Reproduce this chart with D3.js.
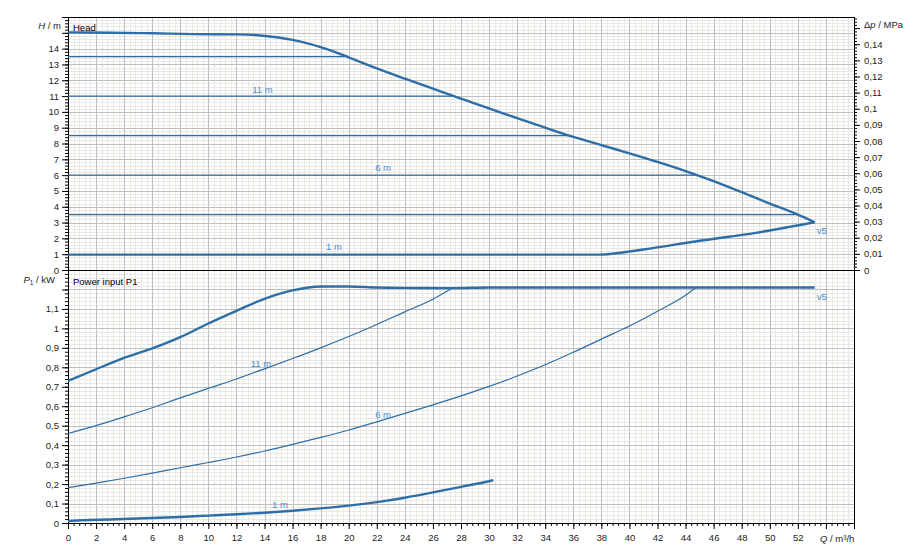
<!DOCTYPE html>
<html lang="en">
<head>
    <meta charset="utf-8">
    <title>Pump curves</title>
    <script src="https://d3js.org/d3.v7.min.js"></script>
    <style>
        body { margin: 0; background: #fff; }
        svg { font-family: "Liberation Sans", Arial, sans-serif; }
    </style>
</head>
<body>
    <div id="chart"></div>
    <script>
        // Data: [Q m³/h, value]
        const headMax = [[0, 15.03], [3, 15.0], [6, 14.97], [9, 14.92], [12, 14.9], [13.5, 14.85], [15, 14.7], [16, 14.55],
            [17, 14.35], [18, 14.1], [19, 13.8], [20, 13.45], [22, 12.75], [24, 12.1], [26, 11.47], [28, 10.84],
            [30, 10.22], [32, 9.6], [34, 9.0], [36, 8.42], [38, 7.9], [40, 7.38], [42, 6.84], [44, 6.26],
            [46, 5.62], [48, 4.92], [50, 4.2], [52, 3.5], [53.2, 3.02]];
        const headMin = [[0, 0.97], [37.8, 0.97], [41, 1.3], [45, 1.85], [49, 2.35], [53.2, 3.02]];
        const headLevels = [13.5, 11, 8.5, 6, 3.5];

        const powerMax = [[0, 0.73], [2, 0.79], [4, 0.848], [6, 0.897], [8, 0.955], [10, 1.025], [12, 1.09], [14, 1.152],
            [16, 1.195], [18, 1.215], [20, 1.215], [22, 1.21], [24, 1.208], [27.4, 1.207], [30, 1.21], [53.2, 1.21]];
        const power11 = [[0, 0.46], [2, 0.5], [4, 0.545], [6, 0.592], [8, 0.643], [10, 0.692], [12, 0.74], [14, 0.792],
            [16, 0.845], [18, 0.9], [20, 0.958], [22, 1.02], [24, 1.085], [26, 1.15], [27.4, 1.207]];
        const power6 = [[0, 0.182], [2, 0.205], [4, 0.23], [6, 0.256], [8, 0.284], [10, 0.311], [12, 0.339], [14, 0.37],
            [16, 0.404], [18, 0.44], [20, 0.478], [22, 0.52], [24, 0.563], [26, 0.607], [28, 0.653], [30, 0.702],
            [32, 0.755], [34, 0.813], [36, 0.877], [38, 0.945], [40, 1.012], [42, 1.088], [44, 1.17], [44.7, 1.207]];
        const power1 = [[0, 0.01], [1, 0.014], [3, 0.018], [5, 0.023], [8, 0.031], [10, 0.038], [12, 0.045],
            [14, 0.053], [16, 0.063], [18, 0.075], [20, 0.089], [22, 0.107], [24, 0.13], [26, 0.157], [28, 0.186],
            [29.5, 0.207], [30.3, 0.22]];

        // Tick labels
        const qLabels = d3.range(0, 53, 2);
        const headLabels = d3.range(0, 15, 1);
        const powerLabels = d3.range(0, 12, 1).map(i => i / 10);
        const dpLabels = d3.range(0, 15, 1).map(i => i / 100);

        // Curve labels [text, Q, value]
        const headNotes = [["11 m", 13.85, 11.18], ["6 m", 22.45, 6.26], ["1 m", 18.95, 1.26]];
        const powerNotes = [["11 m", 13.75, 0.8], ["6 m", 22.45, 0.538], ["1 m", 15.1, 0.077]];

        // Dimensions
        const width = 921;
        const height = 559;
        const plotLeft = 68, plotRight = 854, plotTop = 17, plotMid = 270, plotBottom = 523;

        const svg = d3.select("#chart").append("svg")
            .attr("width", width)
            .attr("height", height);

        const x = d3.scaleLinear([0, 56], [plotLeft, plotRight]);
        const yHead = d3.scaleLinear([0, 16], [plotMid, plotTop]);
        const yPower = d3.scaleLinear([0, 1.3], [plotBottom, plotMid]);
        const yDp = d3.scaleLinear([0, 16 * 0.00980665], [plotMid, plotTop]);

        const comma = d3.formatLocale({ decimal: ",", thousands: ".", grouping: [3], currency: ["", ""] });
        const fmt2 = comma.format(".2~f");
        const fmt1 = comma.format(".1~f");

        const blue = "#2e6ea6";
        const noteBlue = "#4b8ed0";
        const textColor = "#1c1c24";

        // Grid
        const grid = svg.append("g").attr("shape-rendering", "crispEdges");
        const qMinor = d3.range(0, 141).map(i => i * 0.4);
        const qMajor = d3.range(0, 29).map(i => i * 2);

        function hGrid(values, scale, color) {
            grid.append("g").selectAll("line").data(values).join("line")
                .attr("x1", plotLeft).attr("x2", plotRight)
                .attr("y1", d => Math.round(scale(d)) + 0.5)
                .attr("y2", d => Math.round(scale(d)) + 0.5)
                .attr("stroke", color);
        }
        function vGrid(values, color) {
            grid.append("g").selectAll("line").data(values).join("line")
                .attr("y1", plotTop).attr("y2", plotBottom)
                .attr("x1", d => Math.round(x(d)) + 0.5)
                .attr("x2", d => Math.round(x(d)) + 0.5)
                .attr("stroke", color);
        }
        hGrid(d3.range(0, 81).map(i => i * 0.2), yHead, "#eae8e2");
        hGrid(d3.range(0, 66).map(i => i * 0.02), yPower, "#eae8e2");
        vGrid(qMinor, "#eae8e2");
        hGrid(d3.range(0, 17), yHead, "#bfbfbf");
        hGrid(d3.range(0, 14).map(i => i / 10), yPower, "#bfbfbf");
        vGrid(qMajor, "#bfbfbf");

        // Axes
        function styleAxis(g) {
            g.selectAll("path, line").attr("stroke", "#000");
            g.selectAll("text").attr("fill", textColor).attr("font-size", 9.5).attr("font-family", null);
        }

        svg.append("g").attr("transform", `translate(${plotLeft},0)`)
            .call(d3.axisLeft(yHead).tickValues(d3.range(0, 81).map(i => i * 0.2)).tickSize(3).tickSizeOuter(0).tickFormat(""))
            .call(styleAxis);
        svg.append("g").attr("transform", `translate(${plotLeft},0)`)
            .call(d3.axisLeft(yHead).tickValues(d3.range(0, 17)).tickSize(6).tickSizeOuter(0).tickPadding(3)
                .tickFormat(d => headLabels.includes(d) ? d : ""))
            .call(styleAxis);

        svg.append("g").attr("transform", `translate(${plotLeft},0)`)
            .call(d3.axisLeft(yPower).tickValues(d3.range(0, 65).map(i => i * 0.02)).tickSize(3).tickSizeOuter(0).tickFormat(""))
            .call(styleAxis);
        svg.append("g").attr("transform", `translate(${plotLeft},0)`)
            .call(d3.axisLeft(yPower).tickValues(d3.range(0, 14).map(i => i / 10)).tickSize(6).tickSizeOuter(0).tickPadding(3)
                .tickFormat(d => powerLabels.some(v => Math.abs(v - d) < 1e-9) ? fmt1(d) : ""))
            .call(styleAxis);

        svg.append("g").attr("transform", `translate(${plotRight},0)`)
            .call(d3.axisRight(yDp).tickValues(d3.range(0, 79).map(i => i * 0.002)).tickSize(3).tickSizeOuter(0).tickFormat(""))
            .call(styleAxis);
        svg.append("g").attr("transform", `translate(${plotRight},0)`)
            .call(d3.axisRight(yDp).tickValues(d3.range(0, 16).map(i => i / 100)).tickSize(6).tickSizeOuter(0).tickPadding(4)
                .tickFormat(d => dpLabels.some(v => Math.abs(v - d) < 1e-9) ? fmt2(d) : ""))
            .call(styleAxis);

        svg.append("g").attr("transform", `translate(0,${plotBottom})`)
            .call(d3.axisBottom(x).tickValues(qMinor).tickSize(3).tickSizeOuter(0).tickFormat(""))
            .call(styleAxis);
        svg.append("g").attr("transform", `translate(0,${plotBottom})`)
            .call(d3.axisBottom(x).tickValues(qMajor).tickSize(6).tickSizeOuter(0).tickPadding(5)
                .tickFormat(d => qLabels.includes(d) ? d : ""))
            .call(styleAxis);

        // Frame and panel divider
        svg.append("g").attr("shape-rendering", "crispEdges")
            .selectAll("line").data([plotTop, plotMid, plotBottom]).join("line")
            .attr("x1", plotLeft).attr("x2", plotRight + 0.5)
            .attr("y1", d => d + 0.5).attr("y2", d => d + 0.5)
            .attr("stroke", "#000");
        svg.append("g").attr("shape-rendering", "crispEdges")
            .selectAll("line").data([plotLeft, plotRight]).join("line")
            .attr("x1", d => d + 0.5).attr("x2", d => d + 0.5)
            .attr("y1", plotTop).attr("y2", plotBottom + 0.5)
            .attr("stroke", "#000");

        // Curves
        const headLine = d3.line().x(d => x(d[0])).y(d => yHead(d[1])).curve(d3.curveMonotoneX);
        const powerLine = d3.line().x(d => x(d[0])).y(d => yPower(d[1])).curve(d3.curveMonotoneX);

        // End of constant-pressure lines where they meet the max curve
        function meetQ(level) {
            for (let i = 1; i < headMax.length; i++) {
                const [q0, h0] = headMax[i - 1], [q1, h1] = headMax[i];
                if (h0 >= level && h1 <= level) return q0 + (h0 - level) / (h0 - h1) * (q1 - q0);
            }
            return 0;
        }

        svg.append("g").selectAll("line").data(headLevels).join("line")
            .attr("x1", x(0)).attr("x2", d => x(meetQ(d)))
            .attr("y1", d => yHead(d)).attr("y2", d => yHead(d))
            .attr("stroke", blue).attr("stroke-width", 1.2);

        [[headMax, headLine, 2.4], [headMin, headLine, 2.4], [powerMax, powerLine, 2.4],
         [power11, powerLine, 1.2], [power6, powerLine, 1.2], [power1, powerLine, 2.4]]
            .forEach(([data, line, w]) => {
                svg.append("path")
                    .attr("d", line(data))
                    .attr("fill", "none")
                    .attr("stroke", blue)
                    .attr("stroke-width", w)
                    .attr("stroke-linejoin", "round");
            });

        // Curve labels
        function notes(list, y) {
            svg.append("g").selectAll("text").data(list).join("text")
                .attr("x", d => x(d[1]))
                .attr("y", d => y(d[2]))
                .attr("text-anchor", "middle")
                .attr("font-size", 9.5)
                .attr("fill", noteBlue)
                .text(d => d[0]);
        }
        notes(headNotes, yHead);
        notes(powerNotes, yPower);

        const lastHead = headMax[headMax.length - 1];
        const lastPower = powerMax[powerMax.length - 1];
        svg.append("text").attr("x", x(lastHead[0]) + 2).attr("y", yHead(lastHead[1]) + 12)
            .attr("font-size", 9.5).attr("fill", noteBlue).text("v5");
        svg.append("text").attr("x", x(lastPower[0]) + 2).attr("y", yPower(lastPower[1]) + 12)
            .attr("font-size", 9.5).attr("fill", noteBlue).text("v5");

        // Titles
        svg.append("text").attr("x", plotLeft + 5).attr("y", plotTop + 13.5)
            .attr("font-size", 9.5).attr("fill", "#000").text("Head");
        svg.append("text").attr("x", plotLeft + 5).attr("y", plotMid + 15)
            .attr("font-size", 9.5).attr("fill", "#000").text("Power input P1");

        const hTitle = svg.append("text").attr("x", 61).attr("y", 29)
            .attr("text-anchor", "end").attr("font-size", 9.5).attr("fill", textColor);
        hTitle.append("tspan").attr("font-style", "italic").text("H");
        hTitle.append("tspan").text(" / m");

        const pTitle = svg.append("text").attr("x", 55).attr("y", 283)
            .attr("text-anchor", "end").attr("font-size", 9.5).attr("fill", textColor);
        pTitle.append("tspan").attr("font-style", "italic").text("P");
        pTitle.append("tspan").attr("font-size", 6.5).attr("dy", 2).text("1");
        pTitle.append("tspan").attr("dy", -2).text(" / kW");

        const dpTitle = svg.append("text").attr("x", 864).attr("y", 28)
            .attr("font-size", 9.5).attr("fill", textColor);
        dpTitle.append("tspan").text("Δ");
        dpTitle.append("tspan").attr("font-style", "italic").text("p");
        dpTitle.append("tspan").text(" / MPa");

        const qTitle = svg.append("text").attr("x", 820).attr("y", 541.5)
            .attr("font-size", 9.5).attr("fill", textColor);
        qTitle.append("tspan").attr("font-style", "italic").text("Q");
        qTitle.append("tspan").text(" / m³/h");
    </script>
</body>
</html>
